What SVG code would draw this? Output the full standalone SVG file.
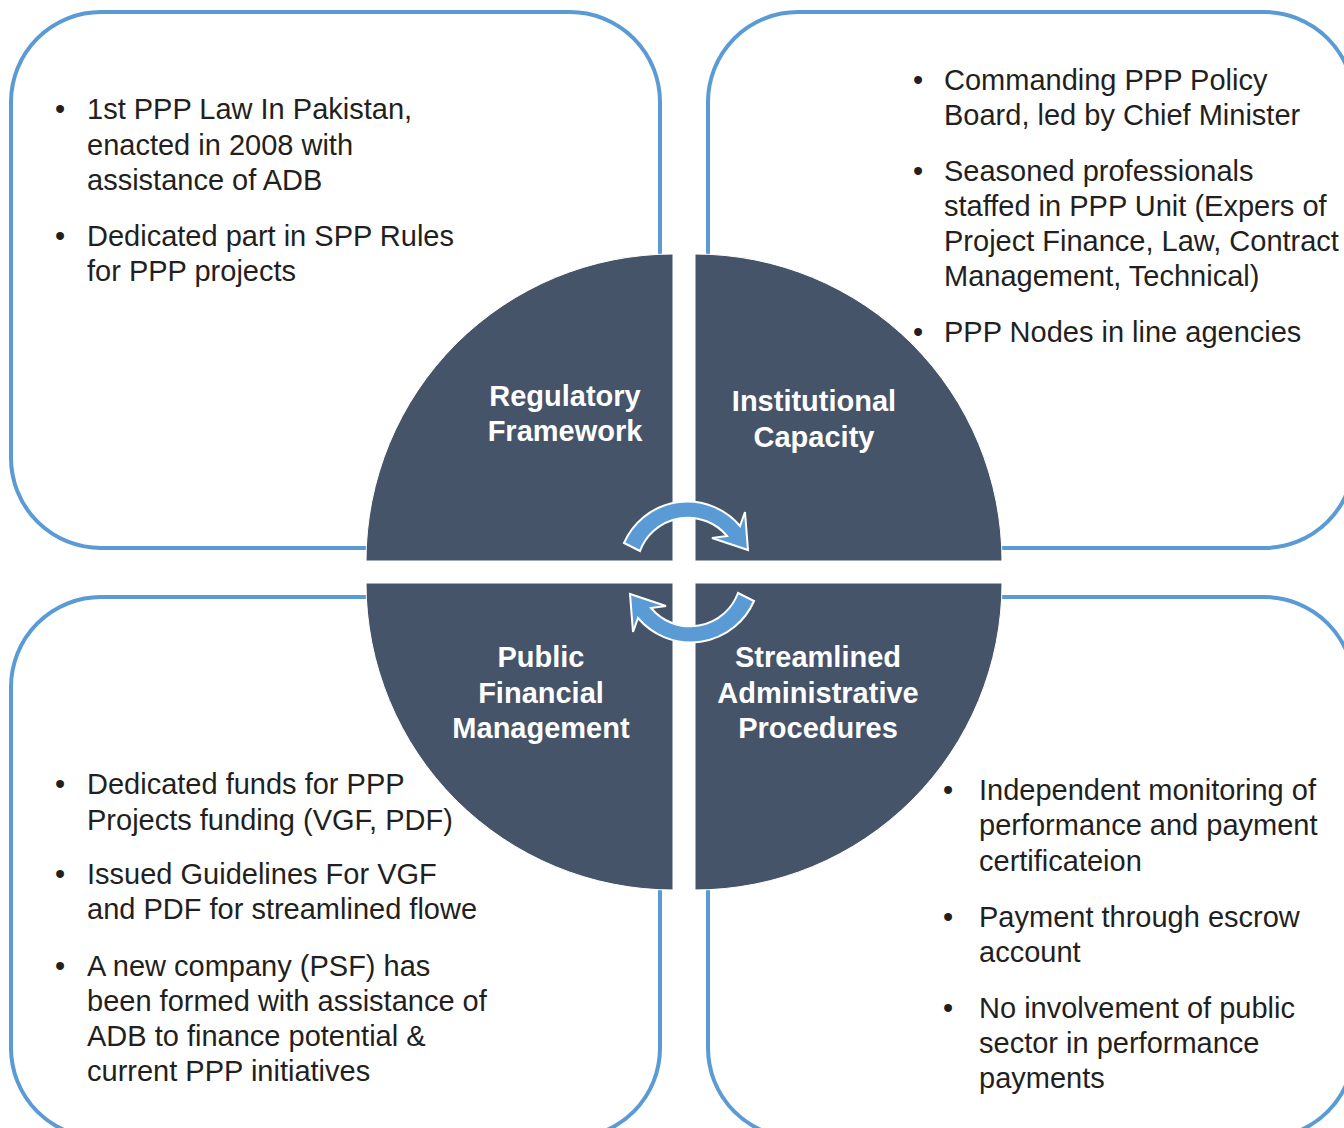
<svg xmlns="http://www.w3.org/2000/svg" width="1344" height="1128" viewBox="0 0 1344 1128">
<style>
.box{fill:#ffffff;stroke:#5b9bd5;stroke-width:4}
.q{fill:#465469;stroke:#ffffff;stroke-width:1}
.t{font-family:"Liberation Sans",Arial,sans-serif;font-size:29px;fill:#231f20}
.lab{font-family:"Liberation Sans",Arial,sans-serif;font-size:29px;font-weight:bold;fill:#ffffff;text-anchor:middle}
.arr{fill:#5b9bd5;stroke:#ffffff;stroke-width:2;stroke-linejoin:miter}
</style>
<rect width="1344" height="1128" fill="#ffffff"/>

<g id="box-regulatory">
<rect class="box" x="11" y="12" width="649" height="536" rx="90" ry="90"/>
<text class="t"><tspan x="55" y="119">•</tspan><tspan x="87" y="119">1st PPP Law In Pakistan,</tspan><tspan x="87" y="155">enacted in 2008 with</tspan><tspan x="87" y="190">assistance of ADB</tspan></text>
<text class="t"><tspan x="55" y="246">•</tspan><tspan x="87" y="246">Dedicated part in SPP Rules</tspan><tspan x="87" y="281">for PPP projects</tspan></text>
</g>

<g id="box-institutional">
<rect class="box" x="708" y="12" width="646" height="536" rx="90" ry="90"/>
<text class="t"><tspan x="913" y="90">•</tspan><tspan x="944" y="90">Commanding PPP Policy</tspan><tspan x="944" y="125">Board, led by Chief Minister</tspan></text>
<text class="t"><tspan x="913" y="181">•</tspan><tspan x="944" y="181">Seasoned professionals</tspan><tspan x="944" y="216">staffed in PPP Unit (Expers of</tspan><tspan x="944" y="251">Project Finance, Law, Contract</tspan><tspan x="944" y="286">Management, Technical)</tspan></text>
<text class="t"><tspan x="913" y="342">•</tspan><tspan x="944" y="342">PPP Nodes in line agencies</tspan></text>
</g>

<g id="box-financial">
<rect class="box" x="11" y="597" width="649" height="541" rx="90" ry="90"/>
<text class="t"><tspan x="55" y="794">•</tspan><tspan x="87" y="794">Dedicated funds for PPP</tspan><tspan x="87" y="830">Projects funding (VGF, PDF)</tspan></text>
<text class="t"><tspan x="55" y="884">•</tspan><tspan x="87" y="884">Issued Guidelines For VGF</tspan><tspan x="87" y="919">and PDF for streamlined flowe</tspan></text>
<text class="t"><tspan x="55" y="976">•</tspan><tspan x="87" y="976">A new company (PSF) has</tspan><tspan x="87" y="1011">been formed with assistance of</tspan><tspan x="87" y="1046">ADB to finance potential &amp;</tspan><tspan x="87" y="1081">current PPP initiatives</tspan></text>
</g>

<g id="box-administrative">
<rect class="box" x="708" y="597" width="646" height="541" rx="90" ry="90"/>
<text class="t"><tspan x="943" y="800">•</tspan><tspan x="979" y="800">Independent monitoring of</tspan><tspan x="979" y="835">performance and payment</tspan><tspan x="979" y="871">certificateion</tspan></text>
<text class="t"><tspan x="943" y="927">•</tspan><tspan x="979" y="927">Payment through escrow</tspan><tspan x="979" y="962">account</tspan></text>
<text class="t"><tspan x="943" y="1018">•</tspan><tspan x="979" y="1018">No involvement of public</tspan><tspan x="979" y="1053">sector in performance</tspan><tspan x="979" y="1088">payments</tspan></text>
</g>

<g id="q-regulatory">
<path class="q" d="M673 561 L366 561 A307 307 0 0 1 673 254 Z"/>
<text class="lab"><tspan x="565" y="406">Regulatory</tspan><tspan x="565" y="441">Framework</tspan></text>
</g>
<g id="q-institutional">
<path class="q" d="M695 561 L695 254 A307 307 0 0 1 1002 561 Z"/>
<text class="lab"><tspan x="814" y="411">Institutional</tspan><tspan x="814" y="447">Capacity</tspan></text>
</g>
<g id="q-financial">
<path class="q" d="M673 583 L673 890 A307 307 0 0 1 366 583 Z"/>
<text class="lab"><tspan x="541" y="667">Public</tspan><tspan x="541" y="703">Financial</tspan><tspan x="541" y="738">Management</tspan></text>
</g>
<g id="q-administrative">
<path class="q" d="M695 583 L1002 583 A307 307 0 0 1 695 890 Z"/>
<text class="lab"><tspan x="818" y="667">Streamlined</tspan><tspan x="818" y="703">Administrative</tspan><tspan x="818" y="738">Procedures</tspan></text>
</g>

<g id="connectors">
<path id="arrow-top" class="arr" d="M624 543 A69 69 0 0 1 740 526 L745 512 L748 550 L712 538 L727 536 A51 51 0 0 0 640 551 Z"/>
<path id="arrow-bottom" class="arr" transform="rotate(180 689 572)" d="M624 543 A69 69 0 0 1 740 526 L745 512 L748 550 L712 538 L727 536 A51 51 0 0 0 640 551 Z"/>
</g>
</svg>
